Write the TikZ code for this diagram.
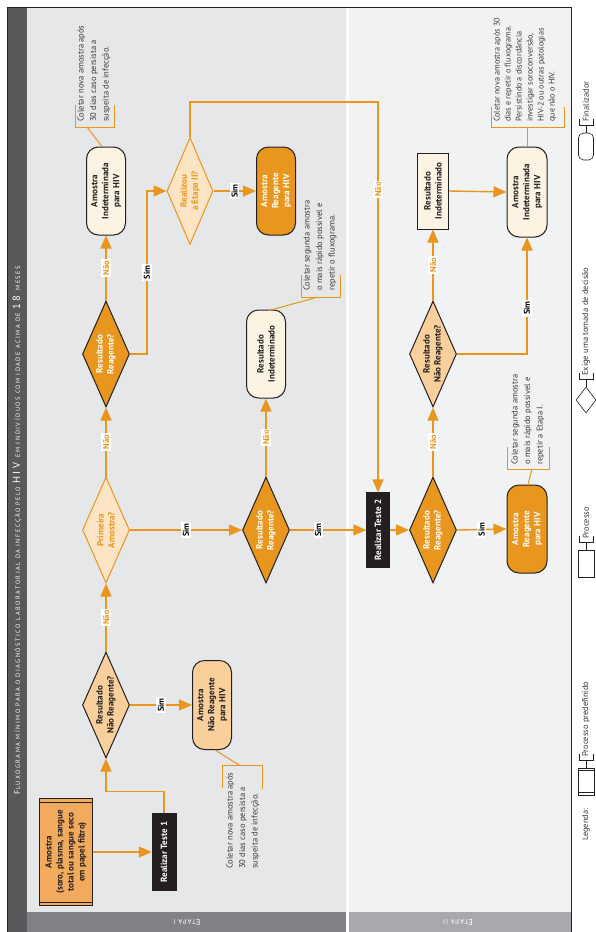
\documentclass[tikz,border=0pt]{standalone}
\usepackage{fontspec}
\setmainfont{PT Sans}
\newfontfamily\ttlfont[LetterSpace=24]{PT Sans}
\newfontfamily\etfont[LetterSpace=14]{PT Sans}
\usetikzlibrary{shapes.geometric,arrows.meta,calc}
\definecolor{ornD}{HTML}{E8961E}
\definecolor{ornL}{HTML}{F9D09B}
\definecolor{ornP}{HTML}{FCE4C4}
\definecolor{ornA}{HTML}{F2AA5C}
\definecolor{cream}{HTML}{FDF3E3}
\definecolor{panA}{HTML}{E6E7E8}
\definecolor{panB}{HTML}{F1F2F4}
\definecolor{stripT}{HTML}{58595B}
\definecolor{stripA}{HTML}{808285}
\definecolor{stripB}{HTML}{A7A9AC}
\definecolor{ink}{HTML}{231F20}
\definecolor{txtg}{HTML}{3A3A3A}
\newcommand\legbracket[1]{\draw[ink, line width=0.6pt] (586,#1) -- ++(0,-8) ++(-7,-6) -- ++(0,6) -- ++(14,0) -- ++(0,-6);}
\begin{document}
\begin{tikzpicture}[x=1pt,y=-1pt,
  arr/.style={draw=ornD, line width=1.4pt, -{Triangle[length=13pt,width=11pt]}},
  cmt/.style={draw=ornD, line width=1pt},
  ttl/.style={rotate=90, align=center, font=\bfseries\fontsize{9}{11}\selectfont, inner sep=0pt, text=ink},
  dmd/.style={diamond, draw=ink, line width=1pt, inner sep=0pt, minimum width=47pt, minimum height=106pt},
  term/.style={rectangle, rounded corners=12pt, draw=ink, line width=1pt, minimum width=39pt, minimum height=89pt},
  blk/.style={rectangle, fill=ink, draw=ink, minimum width=24pt, minimum height=77pt},
  lab/.style={fill=white, rotate=90, inner sep=1.6pt, font=\bfseries\fontsize{8.5}{9}\selectfont},
  note/.style={rotate=90, anchor=west, align=left, inner sep=0pt, text=txtg, font=\fontsize{8.5}{12.5}\selectfont},
  legtxt/.style={rotate=90, anchor=west, inner sep=0pt, text=txtg, font=\fontsize{8.5}{9}\selectfont},
]
\useasboundingbox (0,0) rectangle (595,932);
% backgrounds
\fill[white] (0,0) rectangle (595,932);
\fill[panA] (27,7) rectangle (346,912);
\fill[panB] (349,7) rectangle (571,912);
\fill[stripT] (7,7) rectangle (27,932);
\fill[stripA] (27,912) rectangle (346,932);
\fill[stripB] (349,912) rectangle (571,932);
\draw[ink, line width=1pt] (7,932) -- (7,7) -- (571,7) -- (571,932);
% title
\node[rotate=90, text=white, inner sep=0pt] (title) at (17,530) {\ttlfont\fontsize{8.3}{8}\selectfont F\fontsize{6.3}{8}\selectfont LUXOGRAMA MÍNIMO PARA O DIAGNÓSTICO LABORATORIAL DA INFECÇÃO PELO \fontsize{10.5}{8}\selectfont HIV \fontsize{6.3}{8}\selectfont EM INDIVÍDUOS COM IDADE ACIMA DE \fontsize{10.5}{8}\selectfont 18 \fontsize{6.3}{8}\selectfont MESES};
\node[rotate=180, text=white, inner sep=0pt] (etA) at (187,922) {\etfont\fontsize{8.5}{8}\selectfont E\fontsize{6.8}{8}\selectfont TAPA I};
\node[rotate=180, text=white, inner sep=0pt] (etB) at (458,922) {\etfont\fontsize{8.5}{8}\selectfont E\fontsize{6.8}{8}\selectfont TAPA II};

% ---------- nodes ----------
\node[rectangle, draw=ink, line width=1pt, fill=ornA, minimum width=53pt, minimum height=107pt] (am) at (66,852) {};
\draw[ink, line width=0.8pt] ($(am.north west)+(0,4)$) -- ($(am.north east)+(0,4)$);
\draw[ink, line width=0.8pt] ($(am.south west)+(0,-4)$) -- ($(am.south east)+(0,-4)$);
\node[ttl] at (am) {Amostra\\(soro, plasma, sangue\\total ou sangue seco\\em papel filtro)};

\node[blk] (t1) at (164,852) {};
\node[ttl, text=white] at (t1) {Realizar Teste 1};

\node[dmd, fill=ornL] (d1) at (106,705) {};
\node[ttl] at (d1) {Resultado\\Não Reagente?};

\node[term, fill=ornL] (nr1) at (212,705) {};
\node[ttl] at (nr1) {Amostra\\Não Reagente\\para HIV};

\node[dmd, fill=ornP, draw=ornD] (pa) at (106,530) {};
\node[ttl, text=ornD] at (pa) {Primeira\\Amostra?};

\node[dmd, fill=ornD] (d2) at (106,354) {};
\node[ttl, text=white] at (d2) {Resultado\\Reagente?};

\node[term, fill=cream, minimum height=88pt] (ind1) at (106,191) {};
\node[ttl] at (ind1) {Amostra\\Indeterminada\\para HIV};

\node[dmd, fill=ornP, draw=ornD, minimum width=46pt, minimum height=107pt] (re) at (190,191) {};
\node[ttl, text=ornD] at (re) {Realizou\\a Etapa II?};

\node[term, fill=ornD, minimum height=88pt] (ar1) at (276,191) {};
\node[ttl, text=white] at (ar1) {Amostra\\Reagente\\para HIV};

\node[dmd, fill=ornD] (d3) at (266,530) {};
\node[ttl, text=white] at (d3) {Resultado\\Reagente?};

\node[term, fill=cream, minimum height=88pt] (ri1) at (266,354) {};
\node[ttl] at (ri1) {Resultado\\Indeterminado};

\node[blk, minimum width=23pt, minimum height=75pt] (t2) at (378,530) {};
\node[ttl, text=white] at (t2) {Realizar Teste 2};

\node[dmd, fill=ornD] (d4) at (433,530) {};
\node[ttl, text=white] at (d4) {Resultado\\Reagente?};

\node[term, fill=ornD, minimum width=40pt, minimum height=88pt] (ar2) at (527,529) {};
\node[ttl, text=white] at (ar2) {Amostra\\Reagente\\para HIV};

\node[dmd, fill=ornL] (d5) at (433,354) {};
\node[ttl] at (d5) {Resultado\\Não Reagente?};

\node[rectangle, draw=ink, line width=1pt, fill=cream, minimum width=31pt, minimum height=76pt] (ri2) at (433,191) {};
\node[ttl] at (ri2) {Resultado\\Indeterminado};

\node[term, fill=cream, minimum width=40pt, minimum height=90pt] (ind2) at (527,192) {};
\node[ttl] at (ind2) {Amostra\\Indeterminada\\para HIV};

% ---------- connectors ----------
\draw[arr] (am.east) -- (t1.west);
\draw[arr] (t1.north) -- ++(0,-22) -| (d1.south);
\draw[arr] (d1.east) -- (nr1.west) node[lab, midway] {Sim};
\draw[arr] (d1.north) -- (pa.south) node[lab, midway, text=ornD] {Não};
\draw[arr] (pa.north) -- (d2.south) node[lab, midway, text=ornD] {Não};
\draw[arr] (pa.east) -- (d3.west) node[lab, midway] {Sim};
\draw[arr] (d2.north) -- (ind1.south) node[lab, midway, text=ornD] {Não};
\draw[arr] (d2.east) -- ++(17,0) |- (re.west) node[lab, pos=0.25] {Sim};
\draw[arr] (re.east) -- (ar1.west) node[lab, midway] {Sim};
\draw[arr] (re.north) -- ++(0,-35) -| (t2.north) node[lab, pos=0.612, text=ornD] {Não};
\draw[arr] (d3.north) -- (ri1.south) node[lab, midway, text=ornD] {Não};
\draw[arr] (d3.east) -- (t2.west) node[lab, pos=0.37] {Sim};
\draw[arr] (t2.east) -- (d4.west);
\draw[arr] (d4.east) -- (ar2.west) node[lab, midway] {Sim};
\draw[arr] (d4.north) -- (d5.south) node[lab, midway, text=ornD] {Não};
\draw[arr] (d5.north) -- (ri2.south) node[lab, midway, text=ornD] {Não};
\draw[arr] (ri2.east) -- (ind2.west);
\draw[arr] (d5.east) -| (ind2.south) node[lab, pos=0.697] {Sim};

% ---------- comments ----------
\draw[cmt] ($(nr1.south)+(3,0)$) -- (239,765);
\draw[cmt] (222,788) -- (222,765) -- (262,765) -- (262,789);
\node[note] (n1) at (243,869) {Coletar nova amostra após\\30 dias caso persista a\\suspeita de infecção.};

\draw[cmt] ($(ind1.north)+(-4,0)$) -- (87,127);
\draw[cmt] (75,105) -- (75,127) -- (114,127) -- (114,105);
\node[note] (n2) at (94,122) {Coletar nova amostra após\\30 dias caso persista a\\suspeita de infecção.};

\draw[cmt] ($(ri1.north)+(3,1)$) -- (318,297);
\draw[cmt] (301,275) -- (301,297) -- (340,297) -- (340,275);
\node[note] (n3) at (320,291) {Coletar segunda amostra\\o mais rápido possível e\\repetir o fluxograma.};

\draw[cmt] ($(ar2.north)+(1,0)$) -- (532,469);
\draw[cmt] (507,447) -- (507,469) -- (549,469) -- (549,447);
\node[note] (n4) at (528,465) {Coletar segunda amostra\\o mais rápido possível e\\repetir a Etapa I.};

\draw[cmt] (ind2.north) -- (527,127);
\draw[cmt] (491,107) -- (491,127) -- (564,127) -- (564,107);
\node[note, font=\fontsize{8.2}{11}\selectfont] (n5) at (525,122) {Coletar nova amostra após 30\\dias e repetir o fluxograma.\\Persistindo a discordância\\investigar soroconversão,\\HIV-2 ou outras patologias\\que não o HIV.};

% ---------- legend ----------
\node[legtxt] (lg) at (586,841) {Legenda:};
\node[rectangle, draw=ink, line width=0.6pt, fill=white, minimum width=16pt, minimum height=27pt, inner sep=0pt] (lp) at (586,781.5) {};
\draw[ink, line width=0.6pt] ($(lp.north west)+(0,3)$) -- ($(lp.north east)+(0,3)$);
\draw[ink, line width=0.6pt] ($(lp.south west)+(0,-3)$) -- ($(lp.south east)+(0,-3)$);
\legbracket{768}
\node[legtxt] (lpt) at (586,757) {Processo predefinido};

\node[rectangle, draw=ink, line width=0.6pt, fill=white, minimum width=16pt, minimum height=27pt, inner sep=0pt] (lr) at (586,563.5) {};
\legbracket{550}
\node[legtxt] (lrt) at (586,539) {Processo};

\node[diamond, draw=ink, line width=0.6pt, fill=white, minimum width=20pt, minimum height=26pt, inner sep=0pt] (ld) at (586,400) {};
\legbracket{387}
\node[legtxt] (ldt) at (586,376) {Exige uma tomada de decisão};

\node[rectangle, rounded corners=5pt, draw=ink, line width=0.6pt, fill=white, minimum width=15pt, minimum height=27pt, inner sep=0pt] (lf) at (586,146.5) {};
\legbracket{133}
\node[legtxt] (lft) at (586,122) {Finalizador};
\end{tikzpicture}
\end{document}
